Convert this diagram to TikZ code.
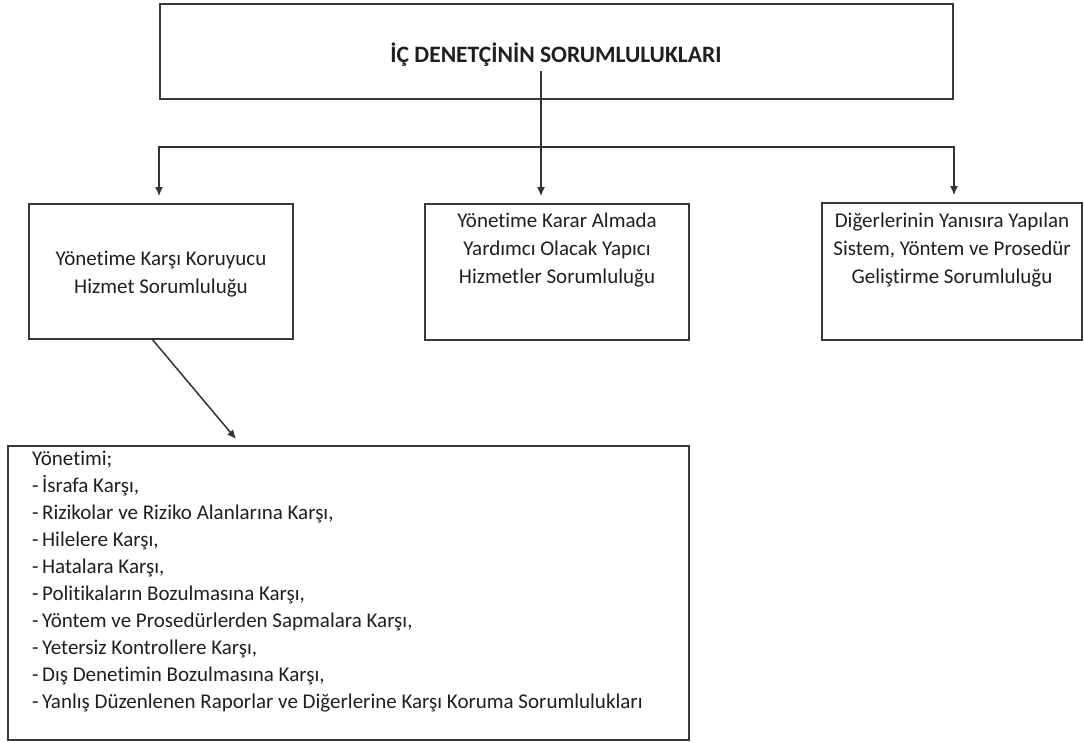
\documentclass[tikz,border=0pt]{standalone}
\usepackage{fontspec}
\setmainfont{Carlito}[Ligatures=NoCommon]
\usetikzlibrary{arrows.meta}

\begin{document}
\begin{tikzpicture}[x=1pt,y=-1pt,
  box/.style={draw=black!78, line width=1.7pt, inner sep=0pt},
  conn/.style={draw=black!80, line width=1.5pt, line join=miter},
  tip/.style={-{Latex[length=9pt,width=8pt]}},
  lbl/.style={font=\fontsize{21}{28}\selectfont, align=center, text=black!88, inner sep=0pt},
  listtext/.style={font=\fontsize{21}{27}\selectfont, align=left, text=black!88, inner sep=0pt}
]
\useasboundingbox (0,0) rectangle (1084,742);

% boxes
\node[box, minimum width=793pt, minimum height=95pt] (top) at (556.5,51.5) {};
\node[box, minimum width=264pt, minimum height=135pt] (left) at (161,271.5) {};
\node[box, minimum width=264pt, minimum height=136pt] (mid) at (557,272) {};
\node[box, minimum width=260pt, minimum height=137pt] (right) at (952,271.5) {};
\node[box, minimum width=681pt, minimum height=294pt] (list) at (348.5,593) {};

% box texts
\node[lbl, font=\fontsize{23.5}{28}\selectfont\bfseries] (title) at (556,55) {İÇ DENETÇİNİN SORUMLULUKLARI};
\node[lbl] (lefttext) at (161,274) {Yönetime Karşı Koruyucu\\Hizmet Sorumluluğu};
\node[lbl] (midtext) at (557,250) {Yönetime Karar Almada\\Yardımcı Olacak Yapıcı\\Hizmetler Sorumluluğu};
\node[lbl] (righttext) at (952,250) {Diğerlerinin Yanısıra Yapılan\\Sistem, Yöntem ve Prosedür\\Geliştirme Sorumluluğu};
\node[listtext, anchor=north west] (listtext) at (32,451) {Yönetimi;\\
-\,İsrafa Karşı,\\
-\,Rizikolar ve Riziko Alanlarına Karşı,\\
-\,Hilelere Karşı,\\
-\,Hatalara Karşı,\\
-\,Politikaların Bozulmasına Karşı,\\
-\,Yöntem ve Prosedürlerden Sapmalara Karşı,\\
-\,Yetersiz Kontrollere Karşı,\\
-\,Dış Denetimin Bozulmasına Karşı,\\
-\,Yanlış Düzenlenen Raporlar ve Diğerlerine Karşı Koruma Sorumlulukları};

% connectors
\coordinate (stem) at (541,71);
\coordinate (barL) at (159,147);
\coordinate (barR) at (954,147);
\coordinate (diagA) at (152,339);
\coordinate (diagB) at (236,439);

\draw[conn, tip, shorten >=7pt] (stem) -- (stem |- mid.north);
\draw[conn, {Latex[length=9pt,width=8pt]}-{Latex[length=9pt,width=8pt]}, shorten <=7pt, shorten >=7pt]
  (barL |- left.north) -- (barL) -- (barR) -- (barR |- right.north);
\draw[conn, tip] (diagA) -- (diagB);
\end{tikzpicture}
\end{document}
